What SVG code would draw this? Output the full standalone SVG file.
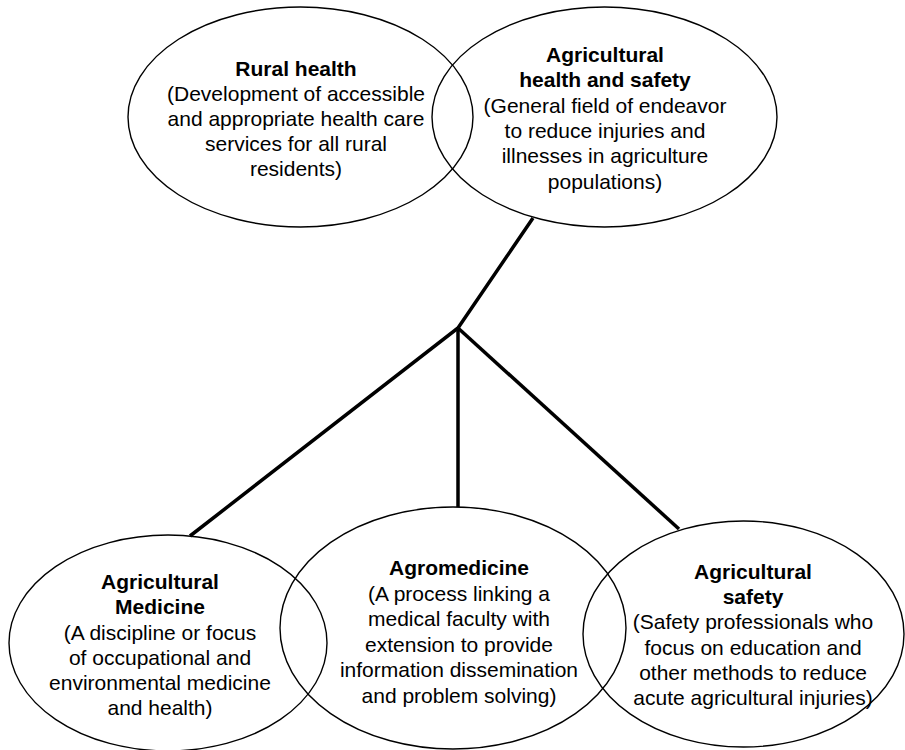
<svg xmlns="http://www.w3.org/2000/svg" width="905" height="750" viewBox="0 0 905 750">
  <style>
    .node { fill: none; stroke: #000; stroke-width: 1.4; }
    .link { stroke: #000; stroke-width: 3.5; fill: none; stroke-linejoin: miter; }
    text { font-family: "Liberation Sans", Arial, Helvetica, sans-serif; font-size: 21px; fill: #000; text-anchor: middle; }
    .title { font-weight: bold; }
  </style>
  <rect width="905" height="750" fill="#fff"/>

  <!-- branch: parent field splits into three sub-fields -->
  <g id="connectors">
    <polyline class="link" points="533,218 458,328 190,536"/>
    <line class="link" x1="458" y1="328" x2="458" y2="507"/>
    <line class="link" x1="458" y1="328" x2="679" y2="529"/>
  </g>

  <g id="rural-health">
    <ellipse class="node" cx="300.5" cy="117" rx="172.5" ry="110"/>
    <text x="296" y="76" class="title">Rural health</text>
    <text x="296" y="101">(Development of accessible</text>
    <text x="296" y="126">and appropriate health care</text>
    <text x="296" y="151">services for all rural</text>
    <text x="296" y="176">residents)</text>
  </g>

  <g id="agricultural-health-and-safety">
    <ellipse class="node" cx="604.5" cy="117" rx="172.5" ry="110"/>
    <text x="605" y="62" class="title">Agricultural</text>
    <text x="605" y="87" class="title">health and safety</text>
    <text x="605" y="113">(General field of endeavor</text>
    <text x="605" y="138">to reduce injuries and</text>
    <text x="605" y="163">illnesses in agriculture</text>
    <text x="605" y="189">populations)</text>
  </g>

  <g id="agricultural-medicine">
    <ellipse class="node" cx="168" cy="643" rx="159" ry="108"/>
    <text x="160" y="589" class="title">Agricultural</text>
    <text x="160" y="614" class="title">Medicine</text>
    <text x="160" y="640">(A discipline or focus</text>
    <text x="160" y="665">of occupational and</text>
    <text x="160" y="690">environmental medicine</text>
    <text x="160" y="715">and health)</text>
  </g>

  <g id="agromedicine">
    <ellipse class="node" cx="453" cy="628" rx="173" ry="121"/>
    <text x="459" y="575" class="title">Agromedicine</text>
    <text x="459" y="601">(A process linking a</text>
    <text x="459" y="626">medical faculty with</text>
    <text x="459" y="652">extension to provide</text>
    <text x="459" y="677">information dissemination</text>
    <text x="459" y="703">and problem solving)</text>
  </g>

  <g id="agricultural-safety">
    <ellipse class="node" cx="743.5" cy="634" rx="160.5" ry="113"/>
    <text x="753" y="579" class="title">Agricultural</text>
    <text x="753" y="604" class="title">safety</text>
    <text x="753" y="629">(Safety professionals who</text>
    <text x="753" y="655">focus on education and</text>
    <text x="753" y="680">other methods to reduce</text>
    <text x="753" y="705">acute agricultural injuries)</text>
  </g>
</svg>
